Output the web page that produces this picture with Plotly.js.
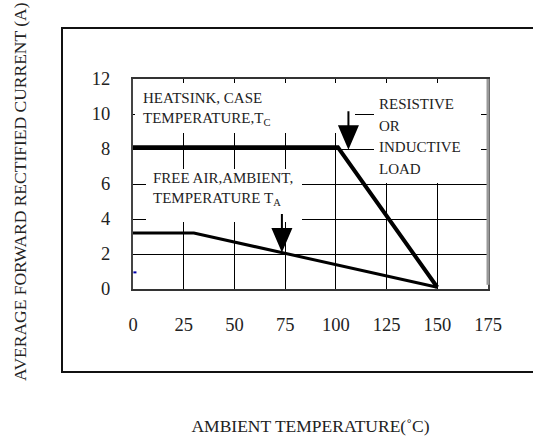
<!DOCTYPE html>
<html><head><meta charset="utf-8">
<script src="https://cdn.plot.ly/plotly-3.0.1.min.js"></script>
<style>html,body{margin:0;padding:0;background:#fff;}</style>
</head><body>
<div id="chart" style="width:533px;height:441px;"></div>
<script>
// Data
var heatsinkTemp = [0, 101, 150];
var heatsinkCurrent = [8.1, 8.1, 0.1];
var freeAirTemp = [0, 30, 150];
var freeAirCurrent = [3.2, 3.2, 0.1];
var xTicks = [0, 25, 50, 75, 100, 125, 150, 175];
var yTicks = [0, 2, 4, 6, 8, 10, 12];
var xTitle = 'AMBIENT TEMPERATURE(\u02DAC)';
var yTitle = 'AVERAGE FORWARD RECTIFIED CURRENT (A)';
var heatsinkLabel = ['HEATSINK, CASE', 'TEMPERATURE,T<sub>C</sub>'];
var loadLabel = ['RESISTIVE', 'OR', 'INDUCTIVE', 'LOAD'];
var freeAirLabel = ['FREE AIR,AMBIENT,', 'TEMPERATURE T<sub>A</sub>'];

var serif = 'Liberation Serif';
var ink = '#222';

var traces = [
  {x: heatsinkTemp, y: heatsinkCurrent, mode: 'lines', line: {color: '#000', width: 4}, hoverinfo: 'skip'},
  {x: freeAirTemp, y: freeAirCurrent, mode: 'lines', line: {color: '#000', width: 3}, hoverinfo: 'skip'}
];

// plot area in pixels: x 133..488, y 79..289
var L = 133, R = 488, T = 79, B = 289;
function dx(px) { return (px - L) / (R - L) * 175; }
function dy(py) { return (B - py) / (B - T) * 12; }
function px(v) { return (v - L) / (R - L); }
function py(v) { return (B - v) / (B - T); }

function textLines(lines, left, centers) {
  return lines.map(function (t, i) {
    return {x: dx(left), y: dy(centers[i]), xref: 'x', yref: 'y', xanchor: 'left', yanchor: 'middle',
      text: t, showarrow: false, align: 'left', font: {family: serif, size: 15, color: ink}};
  });
}
function whiteBox(x0, y0, x1, y1) {
  return {type: 'rect', xref: 'paper', yref: 'paper', x0: px(x0), x1: px(x1), y0: py(y1), y1: py(y0),
    line: {width: 0}, fillcolor: '#fff', layer: 'above'};
}
function arrow(xv, yv) {
  return {type: 'path', xref: 'x', yref: 'y', xsizemode: 'pixel', ysizemode: 'pixel',
    xanchor: xv, yanchor: yv, path: 'M-9,21 L9,21 L0,0 Z M0,21 L0,36',
    line: {color: '#000', width: 2}, fillcolor: '#000', layer: 'above'};
}

var annotations = []
  .concat(textLines(heatsinkLabel, 141, [97.5, 118.5]))
  .concat(textLines(loadLabel, 377, [103.5, 125.5, 147, 168.5]))
  .concat(textLines(freeAirLabel, 151, [178, 199]))
  .concat([{x: px(20), y: py(192), xref: 'paper', yref: 'paper', xanchor: 'center', yanchor: 'middle',
    text: yTitle, textangle: -90, showarrow: false, font: {family: serif, size: 17.5, color: ink}}]);

var layout = {
  width: 533, height: 441,
  margin: {l: L, r: 533 - R, t: T, b: 441 - B},
  paper_bgcolor: '#fff', plot_bgcolor: '#fff',
  showlegend: false,
  font: {family: serif, color: ink, size: 18},
  xaxis: {
    range: [0, 175], tickvals: xTicks, ticktext: xTicks.map(String),
    showgrid: true, gridcolor: '#000', gridwidth: 1,
    showline: true, linecolor: '#333', linewidth: 2, mirror: true,
    ticks: '', ticklabelstandoff: 18, zeroline: false, fixedrange: true,
    tickfont: {family: serif, size: 18.5, color: ink},
    title: {text: xTitle, font: {family: serif, size: 17.5, color: ink}, standoff: 86}
  },
  yaxis: {
    range: [0, 12], tickvals: yTicks, ticktext: yTicks.map(String),
    showgrid: true, gridcolor: '#000', gridwidth: 1,
    showline: true, linecolor: '#444', linewidth: 2, mirror: true,
    ticks: '', ticklabelstandoff: 17, zeroline: false, fixedrange: true,
    tickfont: {family: serif, size: 18.5, color: ink}
  },
  shapes: [
    {type: 'rect', xref: 'paper', yref: 'paper', x0: px(62), x1: px(548), y0: py(372), y1: py(28),
     line: {color: '#111', width: 2}, fillcolor: 'rgba(0,0,0,0)', layer: 'below'},
    whiteBox(135, 83, 355, 133),
    whiteBox(374, 83, 481, 183),
    whiteBox(146, 169, 302, 222),
    {type: 'line', xref: 'paper', yref: 'paper', x0: 1, x1: 1, y0: 0.02, y1: 1,
     line: {color: '#999', width: 3}, layer: 'above'},
    {type: 'line', xref: 'x', yref: 'y', x0: 0.2, x1: 1.7, y0: 0.95, y1: 0.95,
     line: {color: '#0000aa', width: 2}},
    arrow(106.2, 8.1),
    arrow(73.4, 2.23)
  ],
  annotations: annotations
};

Plotly.newPlot('chart', traces, layout, {staticPlot: true, displayModeBar: false});
</script>
</body></html>
